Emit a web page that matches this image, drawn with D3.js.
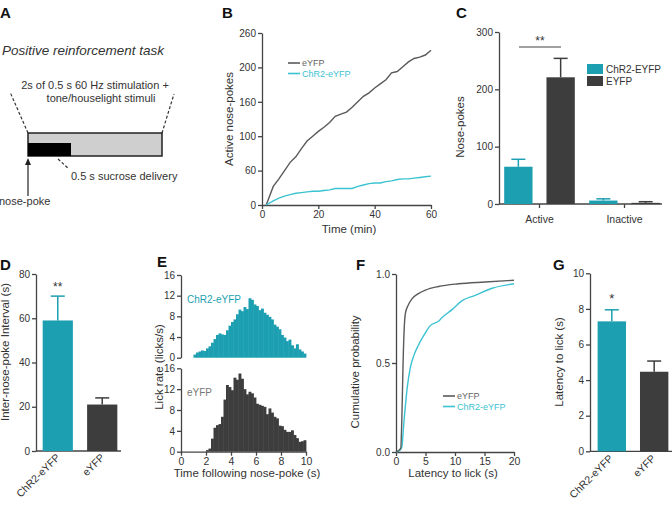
<!DOCTYPE html>
<html>
<head>
<meta charset="utf-8">
<script src="https://d3js.org/d3.v7.min.js"></script>
<style>
  body { margin: 0; background: #fff; }
  svg text { font-family: "Liberation Sans", Arial, sans-serif; fill: #333; }
  .tick text { font-size: 10px; }
  .axis path, .axis line { stroke: #444; stroke-width: 1.3px; }
</style>
</head>
<body>
<svg id="fig" width="672" height="513"></svg>
<script>
// ---- data ----
const cyan = "#1d9fb2", cyanLine = "#3cc3d1", dark = "#3d3d3d", grayLine = "#5a5a5a";

// B: cumulative active nose-pokes over time
const timeB = [1.5, 4, 6, 8, 10, 12, 14, 16, 18, 20, 22, 24, 26, 28, 30, 32, 34, 36, 38, 40, 42, 44, 46, 48, 50, 52, 54, 56, 58, 60];
const eyfpPokes = [0, 27, 38, 50, 62, 70, 82, 93, 100, 107, 113, 120, 129, 132, 135, 142, 150, 158, 163, 170, 176, 182, 192, 194, 201, 208, 213, 215, 218, 225];
const chr2Pokes = [0, 6, 10, 13, 15, 17, 18, 19, 20, 20, 21, 22, 24, 24, 24, 24, 27, 29, 31, 32, 32, 34, 35, 37, 38, 38, 39, 40, 41, 42];
const ticksB = [0, 50, 100, 150, 200, 250];
const tickLabelsB = ["0", "60", "100", "160", "200", "260"];

// C: nose-pokes per hole
const holes = ["Active", "Inactive"];
const groupsC = ["ChR2-EYFP", "EYFP"];
const chr2Holes = [65, 6];
const chr2HolesErr = [13, 3];
const eyfpHoles = [221, 2];
const eyfpHolesErr = [33, 2];

// D and G: bar pairs
const groupsDG = ["ChR2-eYFP", "eYFP"];
const intervalMean = [59, 21];
const intervalErr = [11, 3];
const latencyMean = [7.3, 4.47];
const latencyErr = [0.65, 0.6];

// E: lick-rate histograms (0.2 s bins)
const binWidth = 0.2;
const chr2BinStart = 1.0;
const chr2Licks = [0.6, 1.0, 1.2, 1.4, 1.3, 1.8, 2.2, 2.9, 3.6, 4.4, 4.7, 4.5, 4.4, 5.3, 6.2, 6.9, 7.4, 8.4, 9.3, 9.0,
  9.8, 9.4, 11.5, 11.2, 10.3, 10.0, 9.2, 9.5, 8.7, 8.3, 7.9, 7.4, 6.4, 6.0, 5.5, 4.4, 3.9, 3.2, 3.5, 2.4, 1.8, 2.6, 1.6, 1.2, 0.8];
const eyfpBinStart = 2.0;
const eyfpLicks = [0.3, 0.6, 2.5, 4.6, 5.1, 5.3, 6.7, 10.0, 12.8, 12.4, 11.8, 14.2, 13.8, 15.0, 14.0, 12.0, 11.0, 11.5, 11.2, 10.4,
  9.2, 9.0, 8.8, 8.6, 7.2, 8.3, 7.5, 6.7, 6.4, 5.0, 4.9, 4.2, 3.8, 3.8, 4.1, 3.2, 2.6, 1.9, 2.0, 2.2];

// F: cumulative probability of latency to lick
const eyfpLatT = [0, 0.8, 1.0, 1.2, 1.4, 1.6, 2, 2.7, 3.8, 5, 7.2, 10.6, 15.1, 20];
const eyfpLatP = [0, 0.02, 0.2, 0.5, 0.7, 0.78, 0.82, 0.86, 0.89, 0.91, 0.93, 0.945, 0.955, 0.965];
const chr2LatT = [0, 0.7, 1.0, 1.3, 1.9, 2.4, 3.0, 3.8, 5.0, 5.8, 7.2, 7.8, 9.5, 11.2, 13.4, 16.3, 20];
const chr2LatP = [0, 0.01, 0.03, 0.15, 0.36, 0.47, 0.54, 0.6, 0.67, 0.71, 0.735, 0.755, 0.8, 0.85, 0.88, 0.92, 0.945];

const svg = d3.select("#fig");

function letter(x, y, t) {
  svg.append("text").attr("x", x).attr("y", y).text(t)
    .style("font-size", "15px").style("font-weight", "bold").style("fill", "#111");
}
function yLabel(x, y, t, size) {
  svg.append("text").attr("transform", `translate(${x},${y}) rotate(-90)`)
    .attr("text-anchor", "middle").style("font-size", (size || 11.5) + "px").text(t);
}
function xLabel(x, y, t, size) {
  svg.append("text").attr("x", x).attr("y", y).attr("text-anchor", "middle")
    .style("font-size", (size || 11.5) + "px").text(t);
}
function leftAxis(scale, x, vals, fmt) {
  const ax = d3.axisLeft(scale).tickValues(vals).tickSize(4).tickPadding(2).tickSizeOuter(0);
  if (fmt) ax.tickFormat(fmt);
  return svg.append("g").attr("class", "axis").attr("transform", `translate(${x},0)`).call(ax);
}
function bottomAxis(scale, y, vals, fmt) {
  const ax = d3.axisBottom(scale).tickValues(vals).tickSize(4).tickPadding(2).tickSizeOuter(0);
  if (fmt) ax.tickFormat(fmt);
  return svg.append("g").attr("class", "axis").attr("transform", `translate(0,${y})`).call(ax);
}
function errBar(x, yTop, yBase, color) {
  svg.append("line").attr("x1", x).attr("x2", x).attr("y1", yBase).attr("y2", yTop)
    .attr("stroke", color).attr("stroke-width", 1.5);
  svg.append("line").attr("x1", x - 7).attr("x2", x + 7).attr("y1", yTop).attr("y2", yTop)
    .attr("stroke", color).attr("stroke-width", 1.5);
}
function lineLegend(x, y0, items) {
  items.forEach((l, i) => {
    const y = y0 + i * 10.5;
    svg.append("line").attr("x1", x).attr("x2", x + 12).attr("y1", y).attr("y2", y)
      .attr("stroke", l[1]).attr("stroke-width", 1.6);
    svg.append("text").attr("x", x + 14).attr("y", y + 3.2).style("font-size", "9px")
      .style("fill", l[2]).text(l[0]);
  });
}

// ---- A: schematic ----
letter(0, 18, "A");
svg.append("text").attr("x", 2).attr("y", 55).text("Positive reinforcement task")
  .style("font-size", "13.5px").style("font-style", "italic");
svg.append("text").attr("x", 95).attr("y", 89).attr("text-anchor", "middle")
  .style("font-size", "11px").text("2s of 0.5 s 60 Hz stimulation +");
svg.append("text").attr("x", 101).attr("y", 102).attr("text-anchor", "middle")
  .style("font-size", "11px").text("tone/houselight stimuli");
svg.append("line").attr("x1", 28).attr("y1", 133).attr("x2", 10).attr("y2", 92)
  .attr("stroke", "#333").attr("stroke-width", 1.2).attr("stroke-dasharray", "3,2");
svg.append("line").attr("x1", 162).attr("y1", 133).attr("x2", 174).attr("y2", 94)
  .attr("stroke", "#333").attr("stroke-width", 1.2).attr("stroke-dasharray", "3,2");
svg.append("rect").attr("x", 28).attr("y", 133).attr("width", 134).attr("height", 23)
  .attr("fill", "#cfcfcf").attr("stroke", "#222").attr("stroke-width", 1.5);
svg.append("rect").attr("x", 28).attr("y", 143).attr("width", 43).attr("height", 13).attr("fill", "#000");
svg.append("line").attr("x1", 58).attr("y1", 159).attr("x2", 69).attr("y2", 169)
  .attr("stroke", "#333").attr("stroke-width", 1.2).attr("stroke-dasharray", "3,2");
svg.append("text").attr("x", 71).attr("y", 180).style("font-size", "11px").text("0.5 s sucrose delivery");
svg.append("line").attr("x1", 28).attr("y1", 196).attr("x2", 28).attr("y2", 163)
  .attr("stroke", "#222").attr("stroke-width", 1.2);
svg.append("path").attr("d", "M28,158 L25,165 L31,165 Z").attr("fill", "#222");
svg.append("text").attr("x", -1).attr("y", 205).style("font-size", "11px").text("nose-poke");

// ---- B: cumulative nose-pokes ----
letter(222, 18, "B");
const xB = d3.scaleLinear().domain([0, 60]).range([262, 431]);
const yB = d3.scaleLinear().domain([0, 250]).range([205, 33]);
leftAxis(yB, 262, ticksB, (d, i) => tickLabelsB[i]);
bottomAxis(xB, 205, [0, 20, 40, 60]);
const lineB = d3.line().x(d => xB(d[0])).y(d => yB(d[1]));
svg.append("path").datum(timeB.map((t, i) => [t, eyfpPokes[i]])).attr("d", lineB)
  .attr("fill", "none").attr("stroke", grayLine).attr("stroke-width", 1.4);
svg.append("path").datum(timeB.map((t, i) => [t, chr2Pokes[i]])).attr("d", lineB)
  .attr("fill", "none").attr("stroke", cyanLine).attr("stroke-width", 1.4);
yLabel(233, 119, "Active nose-pokes");
xLabel(349, 233, "Time (min)");
lineLegend(288, 63, [["eYFP", grayLine, "#666"], ["ChR2-eYFP", cyanLine, cyanLine]]);

// ---- C: nose-poke bars ----
letter(456, 18, "C");
const yC = d3.scaleLinear().domain([0, 300]).range([204, 32]);
const x0C = d3.scaleBand().domain(holes).range([497, 667]);
const x1C = d3.scaleBand().domain(groupsC).range([0, x0C.bandwidth()]).paddingInner(0.33).paddingOuter(0.17);
leftAxis(yC, 499, [0, 100, 200, 300]);
const axC = bottomAxis(x0C, 204, holes);
axC.select(".domain").attr("d", "M499,0H662");
axC.selectAll(".tick text").style("font-size", "10.5px").attr("dy", "1.2em");
holes.forEach((h, i) => {
  [[chr2Holes, chr2HolesErr, cyan], [eyfpHoles, eyfpHolesErr, dark]].forEach((s, j) => {
    const bx = x0C(h) + x1C(groupsC[j]);
    const cx = bx + x1C.bandwidth() / 2;
    errBar(cx, yC(s[0][i] + s[1][i]), yC(s[0][i]), s[2]);
    svg.append("rect").attr("x", bx).attr("y", yC(s[0][i])).attr("width", x1C.bandwidth())
      .attr("height", yC(0) - yC(s[0][i])).attr("fill", s[2]);
  });
});
svg.append("line").attr("x1", 519).attr("x2", 561).attr("y1", 47).attr("y2", 47)
  .attr("stroke", "#444").attr("stroke-width", 1.2);
xLabel(540, 45, "**", 12);
yLabel(464, 127, "Nose-pokes");
[["ChR2-EYFP", cyan], ["EYFP", dark]].forEach((l, i) => {
  const y = 64 + i * 12;
  svg.append("rect").attr("x", 587).attr("y", y).attr("width", 16).attr("height", 10).attr("fill", l[1]);
  svg.append("text").attr("x", 606).attr("y", y + 8.5).style("font-size", "10px").text(l[0]);
});

// ---- D: inter-nose-poke interval ----
letter(0, 270, "D");
const yD = d3.scaleLinear().domain([0, 80]).range([451, 274]);
const xD = d3.scaleBand().domain(groupsDG).range([36, 124]).paddingInner(0.32).paddingOuter(0.15);
leftAxis(yD, 36, [0, 20, 40, 60, 80]);
svg.append("line").attr("x1", 36).attr("x2", 121).attr("y1", 451).attr("y2", 451)
  .attr("stroke", "#444").attr("stroke-width", 1.3);
groupsDG.forEach((g, i) => {
  const col = i === 0 ? cyan : dark;
  const cx = xD(g) + xD.bandwidth() / 2;
  errBar(cx, yD(intervalMean[i] + intervalErr[i]), yD(intervalMean[i]), col);
  svg.append("rect").attr("x", xD(g)).attr("y", yD(intervalMean[i])).attr("width", xD.bandwidth())
    .attr("height", yD(0) - yD(intervalMean[i])).attr("fill", col);
  svg.append("text").attr("transform", `translate(${cx + 3},${458}) rotate(-45)`)
    .attr("text-anchor", "end").style("font-size", "10.5px").text(g);
});
xLabel(xD(groupsDG[0]) + xD.bandwidth() / 2, 291, "**", 12);
yLabel(9, 352, "Inter-nose-poke Interval (s)");

// ---- E: lick-rate histograms ----
letter(157, 267, "E");
const xE = d3.scaleLinear().domain([0, 10]).range([181, 306]);
const yEtop = d3.scaleLinear().domain([0, 16]).range([357.7, 275]);
const yEbot = d3.scaleLinear().domain([0, 16]).range([451.7, 368.3]);
function hist(vals, start, yS, col) {
  svg.append("g").selectAll("rect").data(vals).join("rect")
    .attr("x", (d, i) => xE(start + i * binWidth))
    .attr("width", xE(binWidth) - xE(0) + 0.4)
    .attr("y", d => yS(d)).attr("height", d => yS(0) - yS(d)).attr("fill", col);
}
hist(chr2Licks, chr2BinStart, yEtop, cyan);
hist(eyfpLicks, eyfpBinStart, yEbot, dark);
leftAxis(yEtop, 181, [0, 4, 8, 12, 16]);
leftAxis(yEbot, 181, [0, 4, 8, 12, 16]);
bottomAxis(xE, 451.7, [0, 2, 4, 6, 8, 10]).selectAll(".tick text").style("font-size", "10.5px");
svg.append("text").attr("x", 187).attr("y", 303).style("font-size", "10px").style("fill", cyan).text("ChR2-eYFP");
svg.append("text").attr("x", 187).attr("y", 396).style("font-size", "10px").style("fill", "#777").text("eYFP");
yLabel(163, 367, "Lick rate (licks/s)");
xLabel(247, 477, "Time following nose-poke (s)");

// ---- F: cumulative latency ----
letter(356, 270, "F");
const xF = d3.scaleLinear().domain([0, 20]).range([396, 514]);
const yF = d3.scaleLinear().domain([0, 1]).range([452, 274]);
leftAxis(yF, 396, [0, 0.5, 1], d3.format(".1f"));
bottomAxis(xF, 452, [0, 5, 10, 15, 20]).selectAll(".tick text").style("font-size", "10.5px");
const lineF = d3.line().x(d => xF(d[0])).y(d => yF(d[1])).curve(d3.curveMonotoneX);
svg.append("path").datum(chr2LatT.map((t, i) => [t, chr2LatP[i]])).attr("d", lineF)
  .attr("fill", "none").attr("stroke", cyanLine).attr("stroke-width", 1.4);
svg.append("path").datum(eyfpLatT.map((t, i) => [t, eyfpLatP[i]])).attr("d", lineF)
  .attr("fill", "none").attr("stroke", grayLine).attr("stroke-width", 1.4);
lineLegend(443, 396, [["eYFP", grayLine, "#666"], ["ChR2-eYFP", cyanLine, cyanLine]]);
yLabel(359, 372, "Cumulative probability");
xLabel(453, 477, "Latency to lick (s)");

// ---- G: latency to lick bars ----
letter(553, 270, "G");
const yG = d3.scaleLinear().domain([0, 10]).range([451.3, 273.3]);
const xG = d3.scaleBand().domain(groupsDG).range([590, 676]).paddingInner(0.33).paddingOuter(0.18);
leftAxis(yG, 590, [0, 2, 4, 6, 8, 10]);
svg.append("line").attr("x1", 590).attr("x2", 672).attr("y1", 451.3).attr("y2", 451.3)
  .attr("stroke", "#444").attr("stroke-width", 1.3);
groupsDG.forEach((g, i) => {
  const col = i === 0 ? cyan : dark;
  const cx = xG(g) + xG.bandwidth() / 2;
  errBar(cx, yG(latencyMean[i] + latencyErr[i]), yG(latencyMean[i]), col);
  svg.append("rect").attr("x", xG(g)).attr("y", yG(latencyMean[i])).attr("width", xG.bandwidth())
    .attr("height", yG(0) - yG(latencyMean[i])).attr("fill", col);
  svg.append("text").attr("transform", `translate(${cx + 2},${459}) rotate(-45)`)
    .attr("text-anchor", "end").style("font-size", "10.5px").text(g);
});
xLabel(xG(groupsDG[0]) + xG.bandwidth() / 2, 303, "*", 13);
yLabel(563, 362, "Latency to lick (s)");
</script>
</body>
</html>
